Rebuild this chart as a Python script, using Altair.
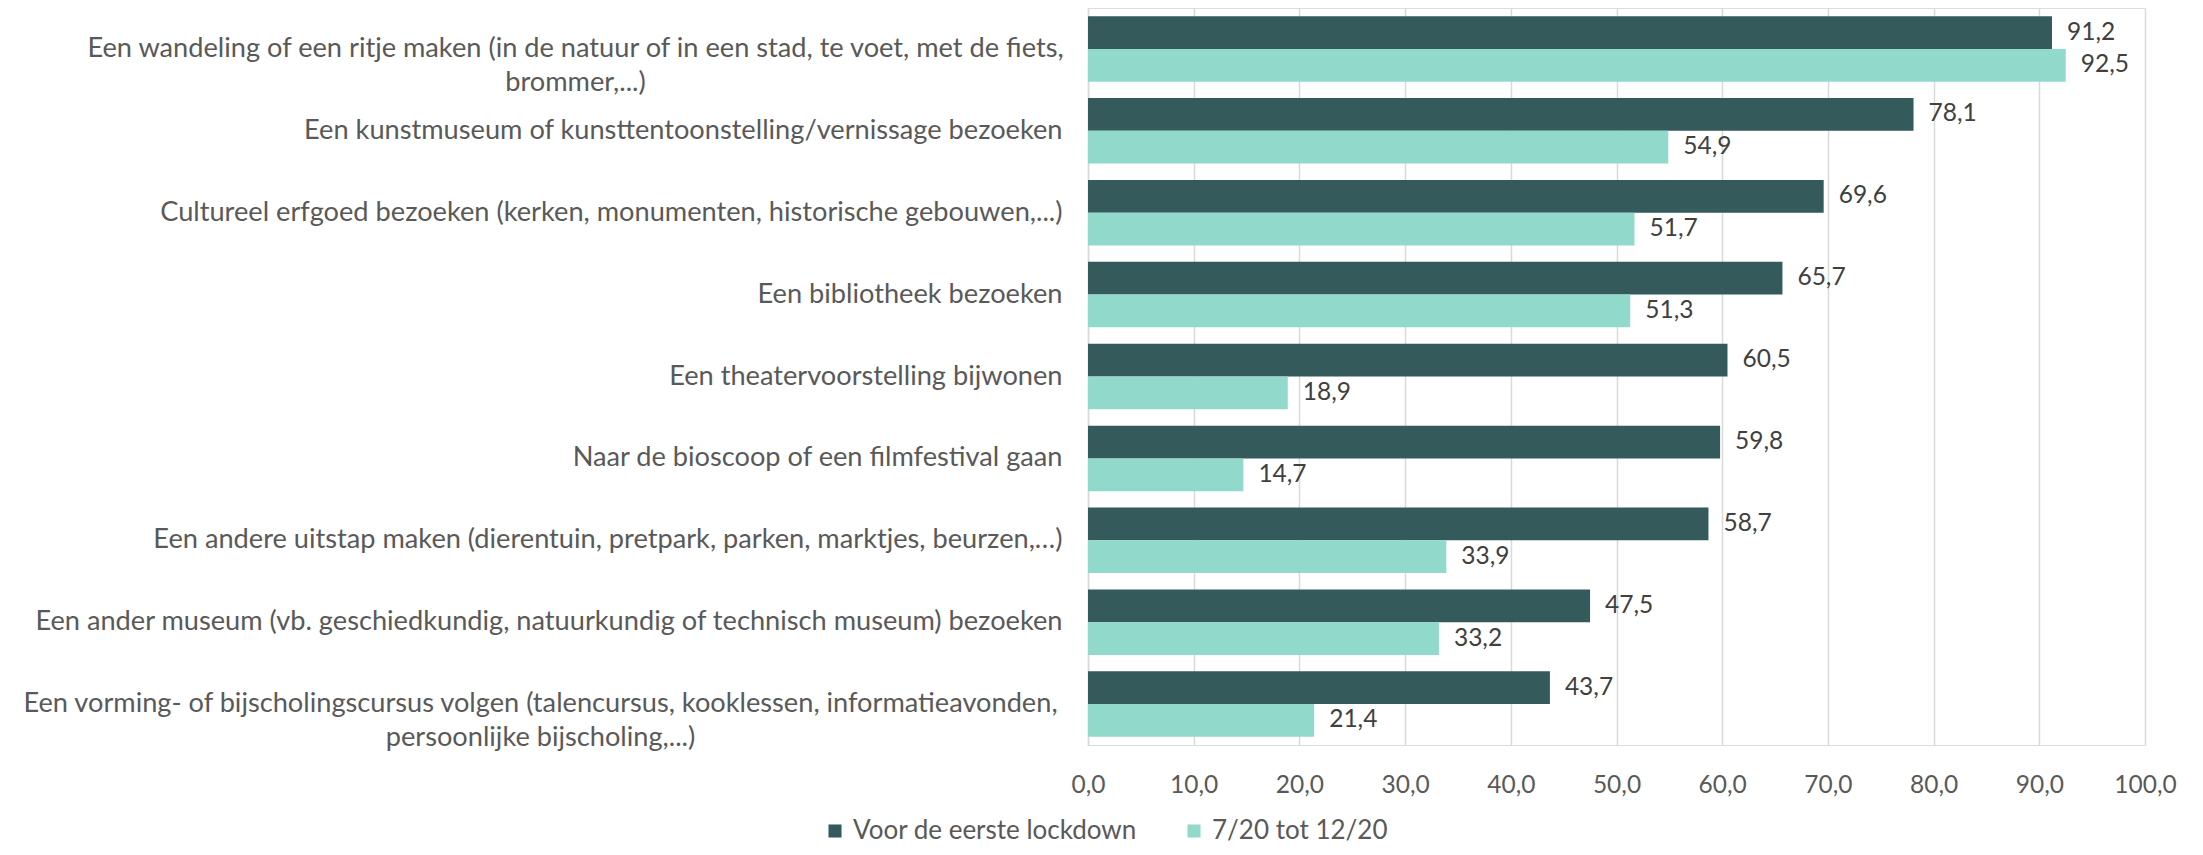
import altair as alt
import pandas as pd

categories = [
    "Een wandeling of een ritje maken (in de natuur of in een stad, te voet, met de fiets,|brommer,...)",
    "Een kunstmuseum of kunsttentoonstelling/vernissage bezoeken",
    "Cultureel erfgoed bezoeken (kerken, monumenten, historische gebouwen,...)",
    "Een bibliotheek bezoeken",
    "Een theatervoorstelling bijwonen",
    "Naar de bioscoop of een filmfestival gaan",
    "Een andere uitstap maken (dierentuin, pretpark, parken, marktjes, beurzen,…)",
    "Een ander museum (vb. geschiedkundig, natuurkundig of technisch museum) bezoeken",
    "Een vorming- of bijscholingscursus volgen (talencursus, kooklessen, informatieavonden,|persoonlijke bijscholing,...)",
]
series = ["Voor de eerste lockdown", "7/20 tot 12/20"]
voor = [91.2, 78.1, 69.6, 65.7, 60.5, 59.8, 58.7, 47.5, 43.7]
na = [92.5, 54.9, 51.7, 51.3, 18.9, 14.7, 33.9, 33.2, 21.4]
colors = ["#355a5c", "#91d9cb"]
x_ticks = [0, 10, 20, 30, 40, 50, 60, 70, 80, 90, 100]

rows = []
for i, c in enumerate(categories):
    rows.append({"cat": c, "serie": series[0], "val": voor[i]})
    rows.append({"cat": c, "serie": series[1], "val": na[i]})
df = pd.DataFrame(rows)

FONT = "Lato"
FS_Y = 27.2
FS_NUM = 24.5
FS_LEG = 26

long1 = categories[0]
long2 = categories[8]

y_enc = alt.Y(
    "cat:N",
    sort=categories,
    title=None,
    scale=alt.Scale(paddingInner=0.2, paddingOuter=0.1),
    axis=alt.Axis(
        labelExpr="split(datum.label, '|')",
        labelLimit=2000,
        labelFont=FONT,
        labelFontSize=FS_Y,
        labelColor="#595959",
        labelLineHeight=34,
        labelAlign={"condition": {"test": f"datum.value == '{long1}' || datum.value == '{long2}'", "value": "center"}, "value": "right"},
        labelPadding={"condition": [
            {"test": f"datum.value == '{long1}'", "value": 513},
            {"test": f"datum.value == '{long2}'", "value": 548},
        ], "value": 26},
        ticks=False,
        domain=True,
        domainColor="#d9d9d9",
        domainWidth=1.5,
        grid=False,
    ),
)

x_enc = alt.X(
    "val:Q",
    title=None,
    scale=alt.Scale(domain=[0, 100], nice=False),
    axis=alt.Axis(
        values=x_ticks,
        labelExpr="replace(format(datum.value, '.1f'), '.', ',')",
        labelFont=FONT,
        labelFontSize=FS_NUM,
        labelColor="#595959",
        labelPadding=28,
        labelFlush=False,
        ticks=False,
        domain=False,
        grid=True,
        gridColor="#d9d9d9",
        gridWidth=1.5,
    ),
)

yoff = alt.YOffset("serie:N", sort=series, scale=alt.Scale(paddingInner=0, paddingOuter=0))

base = alt.Chart(df).encode(y=y_enc, yOffset=yoff)

bars = base.mark_bar().encode(
    x=x_enc,
    color=alt.Color(
        "serie:N",
        sort=series,
        scale=alt.Scale(domain=series, range=colors),
        legend=alt.Legend(
            title=None,
            orient="none",
            direction="horizontal",
            legendX=-266,
            legendY=810,
            symbolType="square",
            symbolSize=170,
            symbolStrokeWidth=0,
            labelFont=FONT,
            labelFontSize=FS_LEG,
            labelColor="#595959",
            labelLimit=1000,
            labelOffset=5,
            columnPadding=44,
        ),
    ),
)

labels = base.mark_text(
    align="left", baseline="middle", dx=15, font=FONT, fontSize=FS_NUM, color="#404040"
).transform_calculate(
    lab="replace(format(datum.val, '.1f'), '.', ',')"
).encode(
    x=alt.X("val:Q", scale=alt.Scale(domain=[0, 100], nice=False)),
    text="lab:N",
)

chart = alt.layer(bars, labels).properties(
    width=1057,
    height=737,
    autosize=alt.AutoSizeParams(type="none"),
    padding={"left": 1080, "top": 0, "right": 40, "bottom": 102},
).configure_view(stroke=None).configure(background="white")

chart.save("out.html", embed_options={"renderer": "svg", "actions": False})
